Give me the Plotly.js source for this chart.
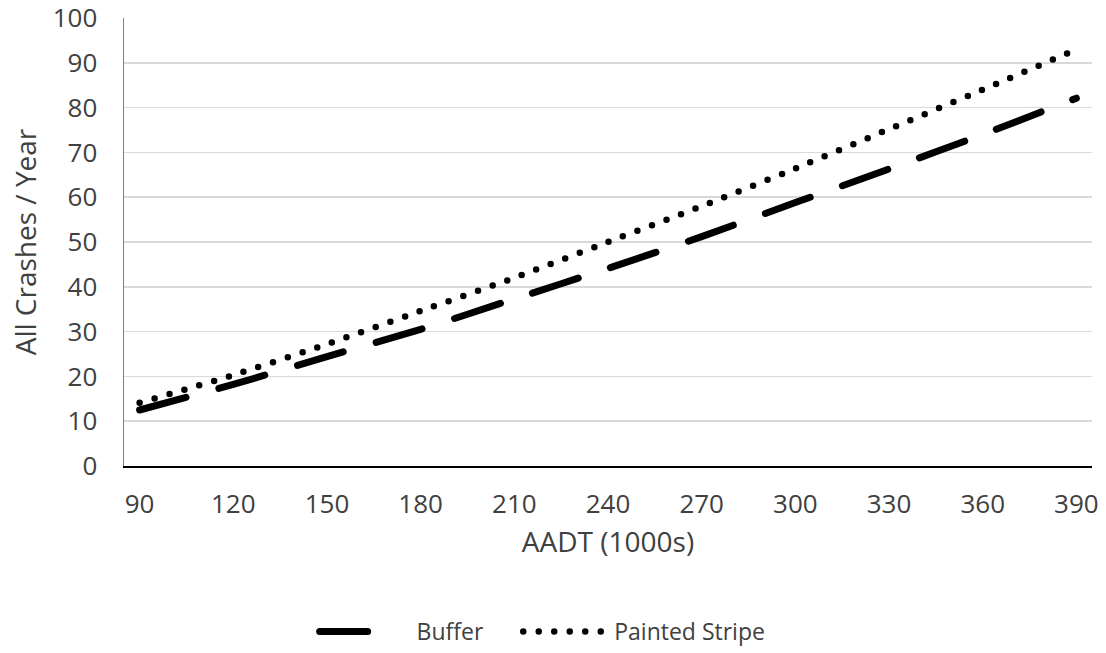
<!DOCTYPE html>
<html>
<head>
<meta charset="utf-8">
<script src="https://cdn.plot.ly/plotly-3.0.1.min.js"></script>
<style>
  html, body { margin: 0; padding: 0; background: #fff; }
  #chart { width: 1106px; height: 653px; }
  .scatterlayer .js-line, .legend .js-line { stroke-linecap: round; }
</style>
</head>
<body>
<div id="chart"></div>
<script>
const aadt = [90, 120, 150, 180, 210, 240, 270, 300, 330, 360, 390];
const buffer = [12.5, 18.2, 24.4, 30.5, 37.3, 44.1, 51.2, 58.8, 66.3, 74.0, 82.1];
const paintedStripe = [14.1, 20.3, 27.2, 34.6, 42.0, 50.0, 58.0, 66.4, 75.2, 84.0, 93.0];
const xTicks = [90, 120, 150, 180, 210, 240, 270, 300, 330, 360, 390];
const yTicks = [0, 10, 20, 30, 40, 50, 60, 70, 80, 90, 100];
const NB = '\u00a0';
const seriesNames = [NB + NB + 'Buffer' + NB.repeat(5), NB + 'Painted Stripe'];

const FAM = 'Open Sans, sans-serif';
const TXT = '#404040';

const traces = [
  {
    x: aadt, y: buffer, name: seriesNames[0], type: 'scatter', mode: 'lines',
    line: {color: '#000000', width: 7, dash: '48px,34px', shape: 'spline', smoothing: 0.6}
  },
  {
    x: aadt, y: paintedStripe, name: seriesNames[1], type: 'scatter', mode: 'lines',
    line: {color: '#000000', width: 6.5, dash: '0px,15.5px', shape: 'spline', smoothing: 0.6}
  }
];

const layout = {
  width: 1106, height: 653,
  paper_bgcolor: '#ffffff', plot_bgcolor: '#ffffff',
  margin: {l: 124, r: 14, t: 18, b: 187},
  font: {family: FAM, size: 24, color: TXT},
  showlegend: true,
  legend: {
    orientation: 'h', xref: 'container', yref: 'container',
    x: 0.2845, xanchor: 'left', y: -0.006, yanchor: 'bottom',
    font: {family: FAM, size: 23, color: TXT},
    itemwidth: 80, traceorder: 'normal'
  },
  xaxis: {
    range: [85, 395], tickvals: xTicks, ticktext: xTicks.map(String),
    showgrid: false, zeroline: false, showline: true, linecolor: '#000000', linewidth: 1.5,
    ticks: 'outside', ticklen: 14, tickcolor: 'rgba(0,0,0,0)', ticklabeloverflow: 'allow',
    tickfont: {family: FAM, size: 26, color: TXT},
    title: {text: 'AADT (1000s)', standoff: 12, font: {family: FAM, size: 28, color: TXT}}
  },
  yaxis: {
    range: [0, 100], tickvals: yTicks, ticktext: yTicks.map(String),
    showgrid: true, gridcolor: '#d9d9d9', gridwidth: 1.5, zeroline: false,
    showline: true, linecolor: '#7f7f7f', linewidth: 1.5,
    ticks: 'outside', ticklen: 20, tickcolor: 'rgba(0,0,0,0)', ticklabeloverflow: 'allow',
    tickfont: {family: FAM, size: 26, color: TXT},
    title: {text: 'All Crashes / Year', standoff: 8, font: {family: FAM, size: 28, color: TXT}}
  }
};

Plotly.newPlot('chart', traces, layout, {displayModeBar: false, staticPlot: true});
</script>
</body>
</html>
